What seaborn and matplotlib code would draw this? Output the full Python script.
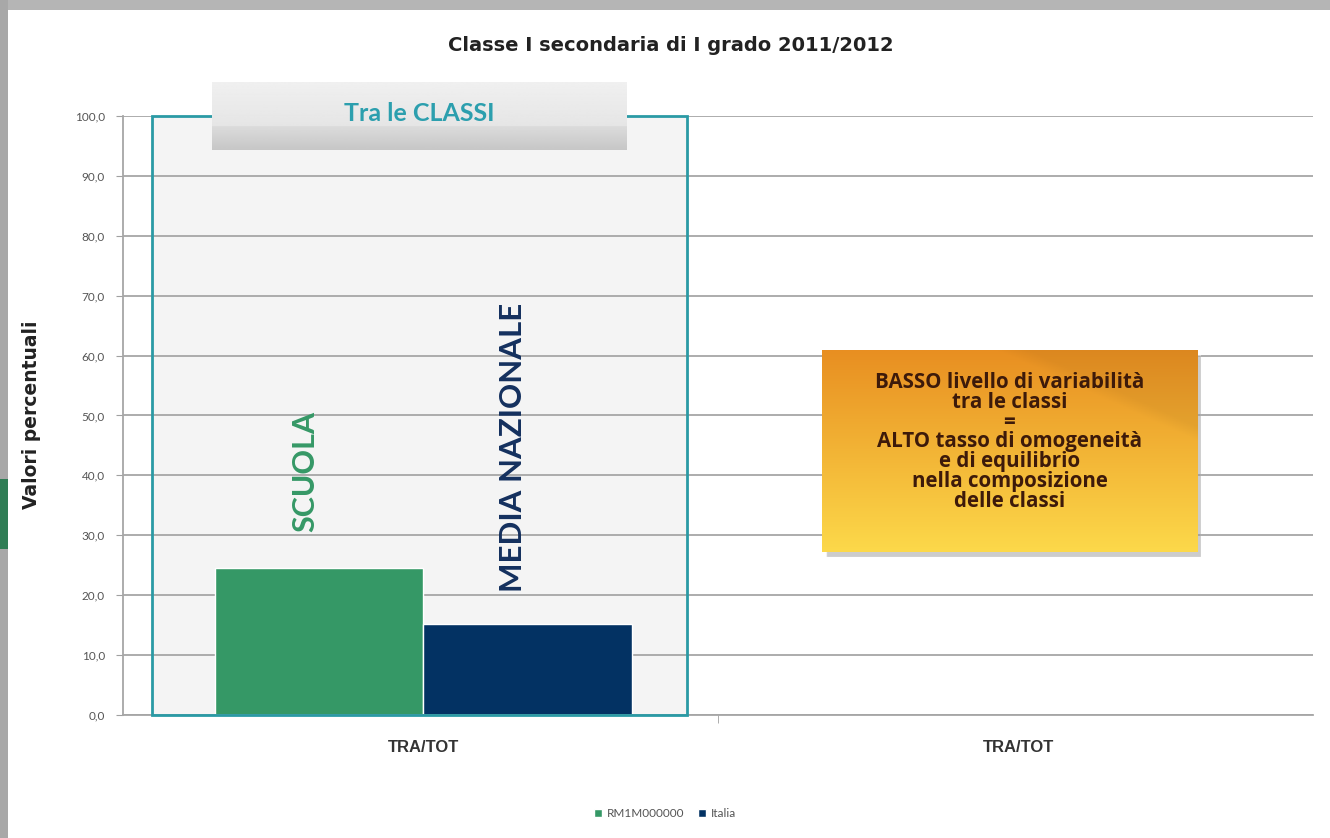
import numpy as np
import pandas as pd
import seaborn as sns
import matplotlib.pyplot as plt
from matplotlib.patches import Rectangle
from matplotlib.ticker import FuncFormatter, MultipleLocator, FixedLocator

# dati
gruppi = ['TRA/TOT (classi)', 'TRA/TOT (scuole)']
etichette_x = ['TRA/TOT', 'TRA/TOT']
serie = ['RM1M000000', 'Italia']
valori_scuola = [24.6, np.nan]
valori_italia = [15.2, np.nan]
colori = ['#359866', '#033263']

df = pd.DataFrame({
    'gruppo': gruppi * 2,
    'serie': [serie[0]] * 2 + [serie[1]] * 2,
    'valore': valori_scuola + valori_italia,
})

sns.set_style('white')
plt.rcParams['font.family'] = ['Lato', 'DejaVu Sans']

fig = plt.figure(figsize=(13.3, 8.38), dpi=100)
ax = fig.add_axes([0.0925, 0.1468, 0.8947, 0.7148])

sns.barplot(
    data=df,
    x='gruppo',
    y='valore',
    hue='serie',
    order=gruppi,
    hue_order=serie,
    palette=colori,
    width=0.7,
    saturation=1,
    errorbar=None,
    legend=True,
    ax=ax,
    zorder=2,
)

ax.set_xlim(-0.505, 1.495)
ax.set_ylim(0, 100)
ax.yaxis.set_major_locator(MultipleLocator(10))
ax.yaxis.set_major_formatter(FuncFormatter(lambda v, p: f'{v:.1f}'.replace('.', ',')))
ax.tick_params(axis='y', labelsize=8.5, labelcolor='#555555', length=5,
               color='#a0a0a0', left=True, pad=8)
ax.set_xticks([0, 1])
ax.set_xticklabels(etichette_x, fontsize=12, fontweight='bold', color='#333333',
                   family=['Liberation Sans', 'DejaVu Sans'])
ax.tick_params(axis='x', length=0, pad=18)
ax.xaxis.set_minor_locator(FixedLocator([0.495]))
ax.tick_params(axis='x', which='minor', length=6, color='#a0a0a0', bottom=True)

ax.set_axisbelow(True)
ax.yaxis.grid(True, color='#a6a6a6', linewidth=1.3, zorder=1)
for s in ['top', 'right']:
    ax.spines[s].set_visible(False)
for s in ['left', 'bottom']:
    ax.spines[s].set_color('#a6a6a6')
    ax.spines[s].set_linewidth(1.3)

ax.set_xlabel('')
ax.set_ylabel('')

# riquadro "Tra le CLASSI"
ax.add_patch(Rectangle((-0.456, 0), 0.899, 100, facecolor='#f4f4f4',
                       edgecolor='none', zorder=0.2))
ax.add_patch(Rectangle((-0.456, 0), 0.899, 100, facecolor='none',
                       edgecolor='#2a9aa5', linewidth=2, zorder=3, clip_on=False))

ax.text(-0.199, 40.6, 'SCUOLA', rotation=90, ha='center', va='center',
        fontsize=22, fontweight='bold', color='#359866', zorder=4)
ax.text(0.150, 44.7, 'MEDIA NAZIONALE', rotation=90, ha='center', va='center',
        fontsize=22.5, fontweight='bold', color='#14305e', zorder=4)

# legenda
handles, labels = ax.get_legend_handles_labels()
ax.get_legend().remove()
fig.legend(handles, labels, loc='center', bbox_to_anchor=(0.5, 0.029), ncol=2,
           frameon=False, fontsize=8.5, handlelength=0.7, handleheight=0.7,
           handletextpad=0.4, columnspacing=1.2, labelcolor='#555555')

# titolo e asse y
fig.text(0.504, 0.946, 'Classe I secondaria di I grado 2011/2012', ha='center',
         va='center', fontsize=14, fontweight='bold', color='#222222',
         family=['DejaVu Sans'])
fig.text(0.024, 0.505, 'Valori percentuali', rotation=90, ha='center', va='center',
         fontsize=13.5, fontweight='bold', color='#222222',
         family=['DejaVu Sans'])

# etichetta "Tra le CLASSI"
hx = fig.add_axes([0.1594, 0.821, 0.3113, 0.0811])
grad = np.concatenate([np.linspace(0.94, 0.90, 55), np.linspace(0.86, 0.78, 30)])
hx.imshow(grad[:, None], aspect='auto', cmap='gray', vmin=0, vmax=1,
          extent=[0, 1, 0, 1])
hx.set_xlim(0, 1)
hx.set_ylim(0, 1)
hx.axis('off')
hx.text(0.5, 0.53, 'Tra le CLASSI', ha='center', va='center', fontsize=18,
        fontweight='bold', color='#2c9fae')

# riquadro arancione
sx = fig.add_axes([0.621, 0.335, 0.282, 0.241])
sx.add_patch(Rectangle((0, 0), 1, 1, facecolor='#9a9a9a', alpha=0.5))
sx.axis('off')
ox = fig.add_axes([0.618, 0.3413, 0.282, 0.241])
top = np.array([0.91, 0.56, 0.13])
bot = np.array([0.99, 0.85, 0.29])
yy, xx = np.mgrid[0:1:120j, 0:1:200j]
img = top * (1 - yy[..., None]) + bot * yy[..., None]
# banda diagonale piu scura in alto a destra
d = np.clip((xx - 0.47 - yy * 1.18) * 12, 0, 1)[..., None]
img = img * (1 - 0.05 * d)
ox.imshow(img, aspect='auto', extent=[0, 1, 0, 1])
ox.set_xlim(0, 1)
ox.set_ylim(0, 1)
ox.axis('off')
ox.text(0.5, 0.545,
        'BASSO livello di variabilità\ntra le classi\n=\nALTO tasso di omogeneità\n'
        'e di equilibrio\nnella composizione\ndelle classi',
        ha='center', va='center', fontsize=14.8, fontweight='bold',
        color='#3d1a0a', linespacing=0.93, family=['Open Sans', 'DejaVu Sans'])

# bordo grigio
fig.patches.append(Rectangle((0, 0.988), 1, 0.012, transform=fig.transFigure,
                             facecolor='#b5b5b5', edgecolor='none'))
fig.patches.append(Rectangle((0, 0), 0.006, 1, transform=fig.transFigure,
                             facecolor='#a8a8a8', edgecolor='none'))
fig.patches.append(Rectangle((0, 0.345), 0.006, 0.083, transform=fig.transFigure,
                             facecolor='#2f7d55', edgecolor='none'))

fig.savefig('out.png', dpi=100)
